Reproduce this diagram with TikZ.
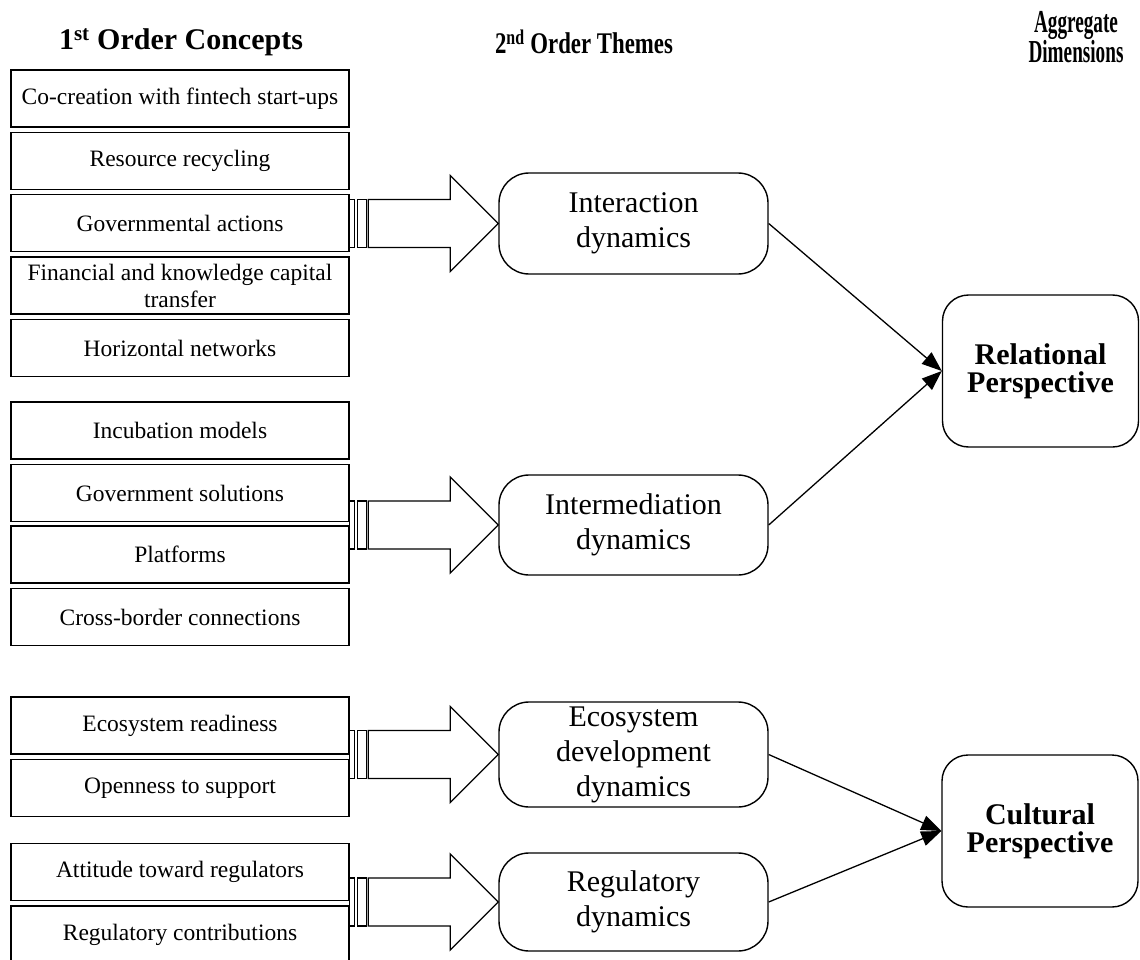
\documentclass[tikz,border=0pt]{standalone}
\usepackage{fontspec}
\setmainfont{Liberation Serif}
\newfontfamily\hdnarrow[FakeStretch=0.76]{Liberation Serif}
\newfontfamily\hdnarrower[FakeStretch=0.6]{Liberation Serif}
\usetikzlibrary{arrows.meta}
\tikzset{
  concept/.style={draw, line width=1.4pt, minimum width=338pt, minimum height=57pt, inner sep=0pt, align=center, font=\fontsize{23.5}{27}\selectfont},
  theme/.style={draw, line width=1.4pt, rounded corners=30pt, minimum width=269pt, inner sep=0pt, align=center, font=\fontsize{30}{35}\selectfont},
  dimbox/.style={draw, line width=1.4pt, rounded corners=26pt, minimum width=196pt, minimum height=152pt, inner sep=0pt, align=center, font=\bfseries\fontsize{30}{28}\selectfont},
  header/.style={inner sep=0pt, align=center},
  link/.style={line width=1.3pt, -{Triangle[length=20pt,width=15pt]}},
  bigarrow/.pic={
    \draw[line width=1.3pt] (-149,-24) rectangle (-144,24);
    \draw[line width=1.3pt] (-141,-24) rectangle (-132,24);
    \draw[line width=1.3pt, line join=miter] (-130,-24) -- (-48,-24) -- (-48,-48) -- (0,0) -- (-48,48) -- (-48,24) -- (-130,24) -- cycle;
  }
}
\begin{document}
\begin{tikzpicture}[x=1pt,y=-1pt]
\useasboundingbox (0,0) rectangle (1140,960);
% headers
\node[header, font=\bfseries\fontsize{30}{28}\selectfont] (h1) at (181,42) {1\textsuperscript{st} Order Concepts};
\node[header, font=\hdnarrow\bfseries\fontsize{30}{28}\selectfont] (h2) at (584,42) {2\textsuperscript{nd} Order Themes};
\node[header, font=\hdnarrower\bfseries\fontsize{32}{29}\selectfont] (h3) at (1076,37) {Aggregate\\Dimensions};
% first order concepts
\node[concept] (c1) at (180,98.5) {Co-creation with fintech start-ups};
\node[concept] (c2) at (180,161) {Resource recycling};
\node[concept] (c3) at (180,223) {Governmental actions};
\node[concept] (c4) at (180,285.5) {Financial and knowledge capital\\transfer};
\node[concept] (c5) at (180,348) {Horizontal networks};
\node[concept] (c6) at (180,430.5) {Incubation models};
\node[concept] (c7) at (180,493) {Government solutions};
\node[concept] (c8) at (180,554.5) {Platforms};
\node[concept] (c9) at (180,617) {Cross-border connections};
\node[concept] (c10) at (180,725.5) {Ecosystem readiness};
\node[concept] (c11) at (180,788) {Openness to support};
\node[concept] (c12) at (180,872) {Attitude toward regulators};
\node[concept] (c13) at (180,934.5) {Regulatory contributions};
% second order themes
\node[theme, minimum height=101pt] (t1) at (633.5,223.5) {Interaction\\dynamics};
\node[theme, minimum height=100pt] (t2) at (633.5,525) {Intermediation\\dynamics};
\node[theme, minimum height=105pt] (t3) at (633.5,754.5) {Ecosystem\\development\\dynamics};
\node[theme, minimum height=98pt] (t4) at (633.5,902) {Regulatory\\dynamics};
% aggregate dimensions
\node[dimbox] (d1) at (1040.5,371) {Relational\\Perspective};
\node[dimbox] (d2) at (1040,831) {Cultural\\Perspective};
% big arrows
\path (t1.west) pic {bigarrow};
\path (t2.west) pic {bigarrow};
\path (t3.west) pic {bigarrow};
\path (t4.west) pic {bigarrow};
% links
\draw[link] (t1.east) -- (d1.west);
\draw[link] (t2.east) -- (d1.west);
\draw[link] (t3.east) -- (d2.west);
\draw[link] (t4.east) -- (d2.west);
\end{tikzpicture}
\end{document}
